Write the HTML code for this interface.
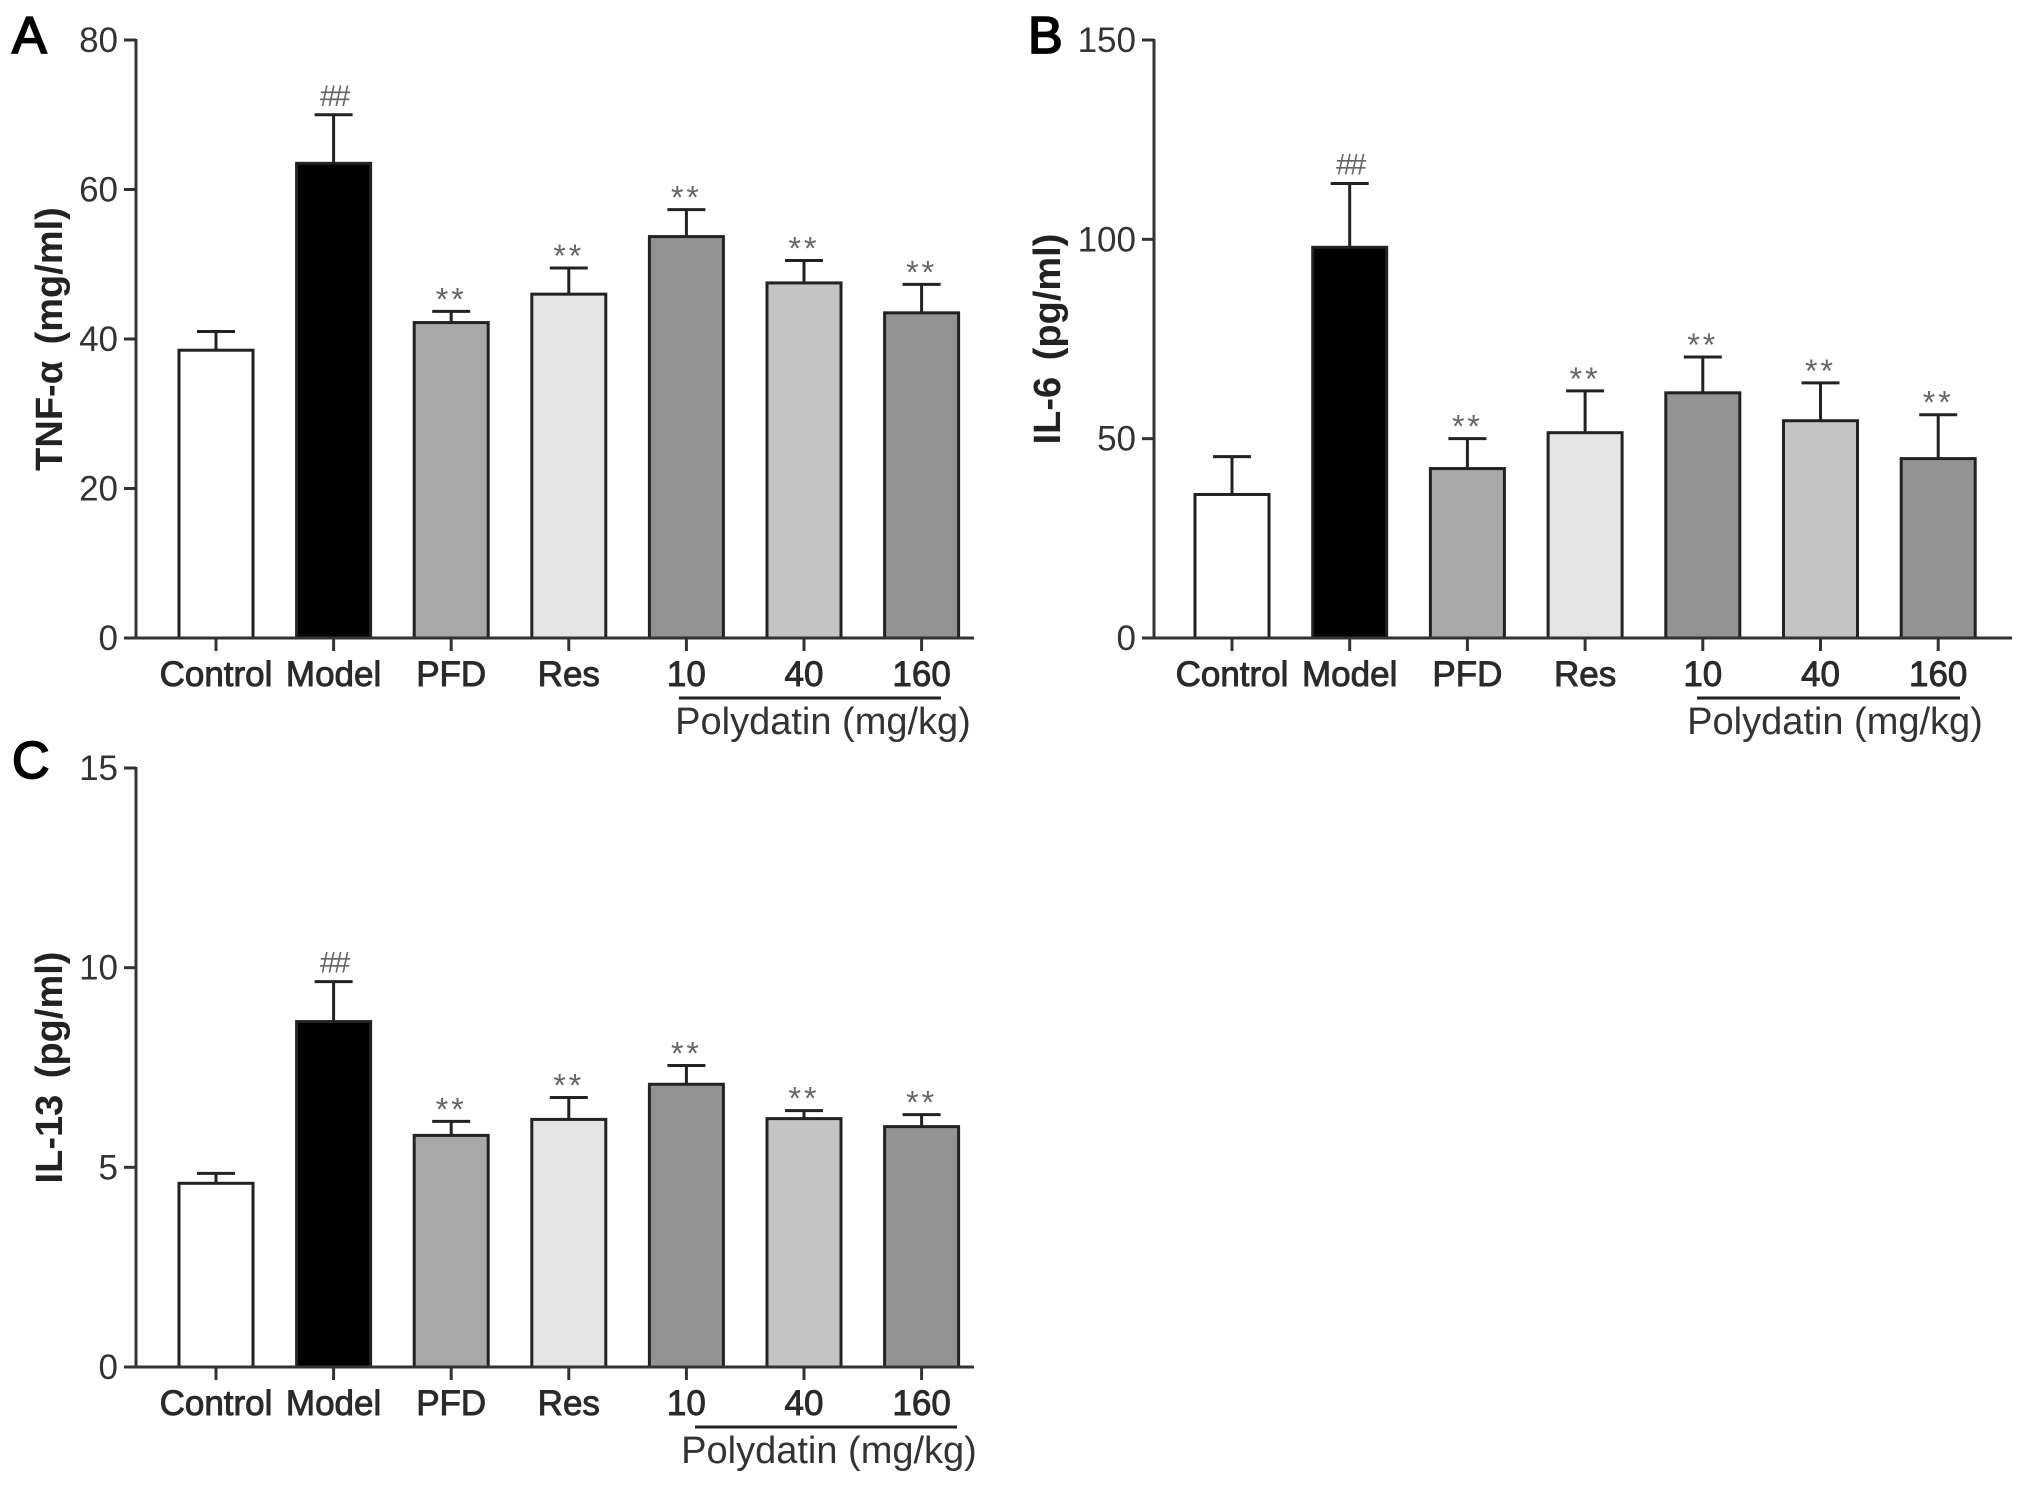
<!DOCTYPE html>
<html><head><meta charset="utf-8"><style>
html,body{margin:0;padding:0;background:#fff;}
svg{display:block;font-family:"Liberation Sans",Arial,sans-serif;}
</style></head><body>
<svg id="fig" width="2031" height="1486" viewBox="0 0 2031 1486" xmlns="http://www.w3.org/2000/svg"></svg>
<script>
const categories = ["Control","Model","PFD","Res","10","40","160"];
const fills = ["#ffffff","#000000","#a8a8a8","#e4e4e4","#939393","#c4c4c4","#939393"];
const tnfValues = [38.5,63.5,42.2,46,53.7,47.5,43.5];
const tnfErrTop = [41,70,43.7,49.5,57.3,50.5,47.3];
const tnfTicks = [0,20,40,60,80];
const il6Values = [36,98,42.5,51.5,61.5,54.5,45];
const il6ErrTop = [45.5,114,50,62,70.5,64,56];
const il6Ticks = [0,50,100,150];
const il13Values = [4.6,8.65,5.8,6.2,7.08,6.22,6.02];
const il13ErrTop = [4.85,9.65,6.15,6.75,7.55,6.42,6.32];
const il13Ticks = [0,5,10,15];
const marks = ["","##","**","**","**","**","**"];

const NS="http://www.w3.org/2000/svg";
const svg=document.getElementById('fig');
function mk(tag,attrs,parent){const e=document.createElementNS(NS,tag);for(const k in attrs)e.setAttribute(k,attrs[k]);(parent||svg).appendChild(e);return e;}

function panel(o){
  const g=mk('g',{});
  
  
  const yMax=o.ticks[o.ticks.length-1];
  const yS=v=>o.y0-(o.y0-o.yTop)*v/yMax;
  const xS=i=>o.c0+i*o.step;
  const L=mk('text',{x:o.lx,y:o.ly,'font-size':52,fill:'#000',stroke:'#000','stroke-width':1.8},g);L.textContent=o.letter;
  
  
  const T=mk('text',{x:0,y:0,transform:`translate(${o.tx},${(o.y0+o.yTop)/2}) rotate(-90)`,'text-anchor':'middle','font-size':38,'font-weight':'bold',fill:'#222','word-spacing':6},g);T.textContent=o.title;
  
  
  for(let i=0;i<categories.length;i++){
    const cx=xS(i),top=yS(o.vals[i]),et=yS(o.err[i]);
    const eb=mk('line',{x1:cx,x2:cx,y1:top,y2:et,stroke:'#222','stroke-width':3},g);
    
    
    const cap=mk('line',{x1:cx-19,x2:cx+19,y1:et,y2:et,stroke:'#222','stroke-width':3},g);
    
    
    const r=mk('rect',{x:cx-o.bw/2,y:top,width:o.bw,height:o.y0-top,fill:fills[i],stroke:'#222','stroke-width':3},g);
    
    
    if(marks[i]){
      const m=mk('text',{x:cx,y:marks[i]=='##'?et-9:et-1,'text-anchor':'middle','font-size':marks[i]=='##'?30:32,fill:'#666','letter-spacing':marks[i]=='**'?3:-3},g);
      m.textContent=marks[i];
      
      
    }
    const tk=mk('line',{x1:cx,x2:cx,y1:o.y0,y2:o.y0+13,stroke:'#333','stroke-width':3},g);
    
    
    const lb=mk('text',{x:cx,y:o.y0+48,'text-anchor':'middle','font-size':35,fill:'#2a2a2a',stroke:'#2a2a2a','stroke-width':0.9},g);lb.textContent=categories[i];
    
    
  }
  const ya=mk('line',{x1:o.ax,x2:o.ax,y1:o.yTop-1,y2:o.y0+1,stroke:'#333','stroke-width':3},g);
  
  
  const xa=mk('line',{x1:o.ax,x2:o.xEnd,y1:o.y0,y2:o.y0,stroke:'#333','stroke-width':3},g);
  
  
  o.ticks.forEach(t=>{
    const y=yS(t);
    const l=mk('line',{x1:o.ax-12,x2:o.ax,y1:y,y2:y,stroke:'#333','stroke-width':3},g);
    
    
    const tx=mk('text',{x:o.ax-18,y:y+12,'text-anchor':'end','font-size':35,fill:'#333'},g);tx.textContent=t;
    
    
  });
  const pl=mk('line',{x1:o.px1,x2:o.px2,y1:o.y0+60,y2:o.y0+60,stroke:'#222','stroke-width':3},g);
  
  
  const pt=mk('text',{x:o.ptx,y:o.y0+96,'text-anchor':'middle','font-size':38,fill:'#333'},g);pt.textContent='Polydatin (mg/kg)';
  
  
}
panel({name:'panel-a-tnf',letter:'A',lx:12,ly:53,title:'TNF-α (mg/ml)',tx:62,ax:136,y0:638,yTop:40,xEnd:974,c0:216,step:117.6,bw:74,ticks:tnfTicks,vals:tnfValues,err:tnfErrTop,px1:679,px2:941,ptx:823});
panel({name:'panel-b-il6',letter:'B',lx:1028,ly:53,title:'IL-6 (pg/ml)',tx:1060,ax:1154,y0:638,yTop:40,xEnd:2012,c0:1232,step:117.7,bw:74,ticks:il6Ticks,vals:il6Values,err:il6ErrTop,px1:1697,px2:1960,ptx:1835});
panel({name:'panel-c-il13',letter:'C',lx:12,ly:778,title:'IL-13 (pg/ml)',tx:62,ax:136,y0:1367,yTop:768,xEnd:974,c0:216,step:117.6,bw:74,ticks:il13Ticks,vals:il13Values,err:il13ErrTop,px1:695,px2:957,ptx:829});
</script>
</body></html>
